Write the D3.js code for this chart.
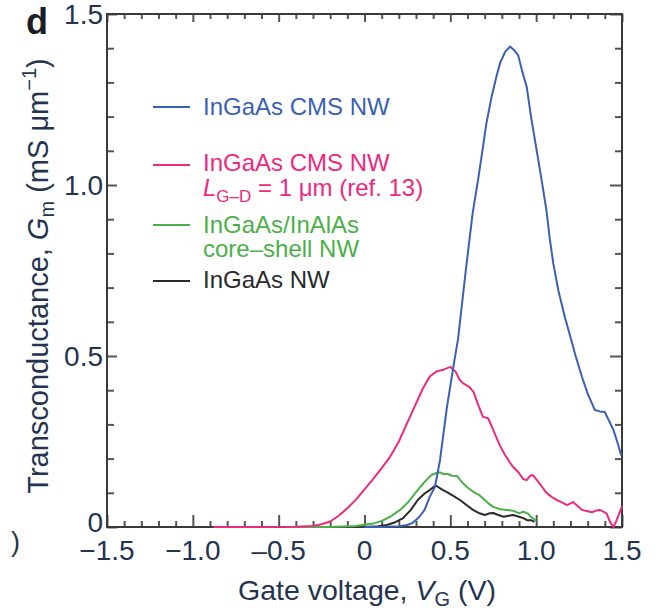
<!DOCTYPE html>
<html><head><meta charset="utf-8">
<script src="https://cdn.jsdelivr.net/npm/d3@7"></script>
<style>body{margin:0;background:#fff} svg{display:block}</style>
</head><body><svg id="c" width="656" height="610"></svg>
<script>
// ---- data ----
const xTickValues = [-1.5, -1.0, -0.5, 0, 0.5, 1.0, 1.5];
const xTickLabels = ["\u22121.5", "\u22121.0", "\u20130.5", "0", "0.5", "1.0", "1.5"];
const yTickValues = [0, 0.5, 1.0, 1.5];
const yTickLabels = ["0", "0.5", "1.0", "1.5"];

// [gate voltage (V), transconductance (mS/um)]
const cmsNW = [[0.0,0],[0.1,0],[0.2,0.002],[0.25,0.006],[0.28,0.012],[0.32,0.03],[0.35,0.05],[0.38,0.088],[0.41,0.117],[0.44,0.196],[0.48,0.35],[0.515,0.46],[0.545,0.55],[0.59,0.75],[0.63,0.918],[0.66,1.01],[0.685,1.094],[0.71,1.18],[0.74,1.257],[0.77,1.32],[0.79,1.357],[0.82,1.39],[0.848,1.405],[0.87,1.395],[0.895,1.38],[0.92,1.33],[0.945,1.287],[0.97,1.2],[1.0,1.11],[1.03,1.02],[1.06,0.925],[1.08,0.84],[1.1,0.77],[1.13,0.69],[1.167,0.614],[1.2,0.555],[1.23,0.5],[1.266,0.44],[1.3,0.39],[1.342,0.342],[1.37,0.338],[1.4,0.336],[1.425,0.31],[1.45,0.284],[1.475,0.245],[1.495,0.21]];
const cmsRef13 = [[-0.88,0],[-0.6,0],[-0.4,0.001],[-0.3,0.003],[-0.25,0.008],[-0.2,0.016],[-0.15,0.033],[-0.1,0.055],[-0.05,0.08],[0,0.11],[0.05,0.14],[0.1,0.172],[0.15,0.206],[0.2,0.25],[0.245,0.30],[0.29,0.35],[0.34,0.405],[0.38,0.44],[0.42,0.455],[0.46,0.46],[0.5,0.468],[0.53,0.455],[0.555,0.43],[0.575,0.42],[0.61,0.41],[0.635,0.395],[0.66,0.36],[0.69,0.322],[0.72,0.318],[0.745,0.29],[0.77,0.26],[0.79,0.237],[0.82,0.21],[0.845,0.19],[0.865,0.176],[0.9,0.158],[0.925,0.14],[0.945,0.137],[0.965,0.15],[0.98,0.152],[1.0,0.14],[1.02,0.127],[1.06,0.1],[1.09,0.088],[1.12,0.079],[1.15,0.072],[1.18,0.064],[1.215,0.073],[1.24,0.062],[1.267,0.05],[1.3,0.046],[1.325,0.043],[1.35,0.048],[1.37,0.05],[1.39,0.045],[1.41,0.04],[1.43,0.015],[1.45,0.0],[1.465,0.015],[1.48,0.035],[1.5,0.06]];
const coreShellNW = [[-0.46,0],[-0.2,0],[-0.05,0.003],[0.05,0.01],[0.1,0.018],[0.15,0.03],[0.207,0.05],[0.25,0.07],[0.305,0.105],[0.35,0.132],[0.39,0.152],[0.42,0.158],[0.44,0.16],[0.46,0.155],[0.485,0.155],[0.51,0.15],[0.54,0.149],[0.57,0.13],[0.596,0.117],[0.62,0.108],[0.645,0.099],[0.67,0.093],[0.70,0.079],[0.73,0.066],[0.75,0.059],[0.79,0.052],[0.83,0.05],[0.87,0.047],[0.9,0.04],[0.925,0.045],[0.95,0.04],[0.97,0.03],[0.99,0.022],[1.0,0.018]];
const plainNW = [[0.0,0],[0.08,0.002],[0.13,0.006],[0.18,0.014],[0.225,0.026],[0.27,0.05],[0.31,0.079],[0.35,0.098],[0.38,0.108],[0.41,0.12],[0.42,0.12],[0.45,0.11],[0.48,0.102],[0.52,0.09],[0.556,0.079],[0.6,0.062],[0.632,0.05],[0.67,0.04],[0.70,0.035],[0.73,0.04],[0.75,0.041],[0.78,0.035],[0.81,0.03],[0.84,0.033],[0.865,0.035],[0.9,0.03],[0.925,0.026],[0.947,0.02],[0.97,0.02],[0.99,0.015]];

const seriesColors = ["#3b5fb3", "#ec2a7f", "#4cb049", "#2a2a2a"];

// ---- layout ----
const W = 656, H = 610;
const m = {left: 107, right: 34, top: 14, bottom: 83};
const svg = d3.select("#c");
const x = d3.scaleLinear().domain([-1.5, 1.5]).range([m.left, W - m.right]);
const y = d3.scaleLinear().domain([0, 1.5]).range([H - m.bottom, m.top]);
const font = "'Liberation Sans', Arial, Helvetica, sans-serif";
const textCol = "#24334f";
const axisCol = "#3a3a3a";

const xMinor = d3.range(-15, 16).map(d => d / 10).filter(d => !xTickValues.some(t => Math.abs(t - d) < 1e-6));
const yMinor = d3.range(0, 16).map(d => d / 10).filter(d => !yTickValues.some(t => Math.abs(t - d) < 1e-6));

function styleAxis(g) {
  g.select(".domain").remove();
  g.selectAll(".tick line").attr("stroke", "#555").attr("stroke-width", 2);
  g.selectAll("text").remove();
}
// inward ticks on all four sides
const gx0 = svg.append("g").attr("transform", `translate(0,${y(0)})`);
gx0.call(d3.axisBottom(x).tickValues(xTickValues).tickSize(-12)).call(styleAxis);
gx0.append("g").call(d3.axisBottom(x).tickValues(xMinor).tickSize(-6)).call(styleAxis);
const gxT = svg.append("g").attr("transform", `translate(0,${y(1.5)})`);
gxT.call(d3.axisTop(x).tickValues(xTickValues).tickSize(-8)).call(styleAxis);
gxT.append("g").call(d3.axisTop(x).tickValues(xMinor).tickSize(-5)).call(styleAxis);
const gy0 = svg.append("g").attr("transform", `translate(${x(-1.5)},0)`);
gy0.call(d3.axisLeft(y).tickValues(yTickValues).tickSize(-10)).call(styleAxis);
gy0.append("g").call(d3.axisLeft(y).tickValues(yMinor).tickSize(-7)).call(styleAxis);
const gyR = svg.append("g").attr("transform", `translate(${x(1.5)},0)`);
gyR.call(d3.axisRight(y).tickValues(yTickValues).tickSize(-12)).call(styleAxis);
gyR.append("g").call(d3.axisRight(y).tickValues(yMinor).tickSize(-7)).call(styleAxis);

// frame
svg.append("rect").attr("x", x(-1.5)).attr("y", y(1.5))
  .attr("width", x(1.5) - x(-1.5)).attr("height", y(0) - y(1.5))
  .attr("fill", "none").attr("stroke", axisCol).attr("stroke-width", 2);

// tick labels
svg.append("g").selectAll("text").data(xTickValues).join("text")
  .attr("x", d => x(d)).attr("y", y(0) + 33)
  .attr("text-anchor", "middle").attr("font-family", font).attr("font-size", 28)
  .attr("fill", textCol).text((d, i) => xTickLabels[i]);
svg.append("g").selectAll("text").data(yTickValues).join("text")
  .attr("x", x(-1.5) - 4).attr("y", d => y(d) - (d === 0 ? 5 : 0)).attr("dy", "0.36em")
  .attr("text-anchor", "end").attr("font-family", font).attr("font-size", 28)
  .attr("fill", textCol).text((d, i) => yTickLabels[i]);

// lines
const line = d3.line().x(d => x(d[0])).y(d => y(d[1]));
[plainNW, coreShellNW, cmsRef13, cmsNW].forEach((s, i) => {
  const col = [seriesColors[3], seriesColors[2], seriesColors[1], seriesColors[0]][i];
  svg.append("path").datum(s).attr("d", line).attr("fill", "none")
    .attr("stroke", col).attr("stroke-width", 2).attr("stroke-linejoin", "round");
});

// axis titles
const xt = svg.append("text").attr("x", 367).attr("y", 600).attr("text-anchor", "middle")
  .attr("font-family", font).attr("font-size", 28.5).attr("fill", textCol);
xt.append("tspan").text("Gate voltage, ");
xt.append("tspan").attr("font-style", "italic").text("V");
xt.append("tspan").attr("font-size", 20).attr("dy", 6).text("G");
xt.append("tspan").attr("dy", -6).text(" (V)");

const yt = svg.append("text").attr("transform", "translate(48,276) rotate(-90)")
  .attr("text-anchor", "middle").attr("font-family", font).attr("font-size", 29).attr("fill", textCol);
yt.append("tspan").text("Transconductance, ");
yt.append("tspan").attr("font-style", "italic").text("G");
yt.append("tspan").attr("font-size", 20).attr("dy", 6).text("m");
yt.append("tspan").attr("dy", -6).text(" (mS \u03bcm");
yt.append("tspan").attr("font-size", 20).attr("dy", -12).text("\u22121");
yt.append("tspan").attr("dy", 12).text(")");

// panel letter + fragment
svg.append("text").attr("x", 26).attr("y", 34).attr("font-family", font).attr("font-weight", "bold")
  .attr("font-size", 36).attr("fill", "#1c1c28").text("d");
svg.append("text").attr("x", 20).attr("y", 551).attr("text-anchor", "end").attr("font-family", font)
  .attr("font-size", 27).attr("fill", textCol).text(")");

// legend
const legend = [
  {c: seriesColors[0], ly: 107, lines: [[{t: "InGaAs CMS NW"}]], by: [115]},
  {c: seriesColors[1], ly: 165, lines: [[{t: "InGaAs CMS NW"}], [{t: "L", i: true}, {t: "G\u2013D", sub: true}, {t: " = 1 \u03bcm (ref. 13)", up: true}]], by: [171, 196]},
  {c: seriesColors[2], ly: 225, lines: [[{t: "InGaAs/InAlAs"}], [{t: "core\u2013shell NW"}]], by: [233, 257]},
  {c: seriesColors[3], ly: 281, lines: [[{t: "InGaAs NW"}]], by: [288]}
];
legend.forEach(L => {
  svg.append("line").attr("x1", 153).attr("x2", 190).attr("y1", L.ly).attr("y2", L.ly)
    .attr("stroke", L.c).attr("stroke-width", 2);
  L.lines.forEach((parts, k) => {
    const t = svg.append("text").attr("x", 203).attr("y", L.by[k]).attr("font-family", font)
      .attr("font-size", 24).attr("fill", L.c);
    parts.forEach(p => {
      const ts = t.append("tspan").text(p.t);
      if (p.i) ts.attr("font-style", "italic");
      if (p.sub) ts.attr("font-size", 17).attr("dy", 6);
      if (p.up) ts.attr("dy", -6);
    });
  });
});
</script></body></html>
